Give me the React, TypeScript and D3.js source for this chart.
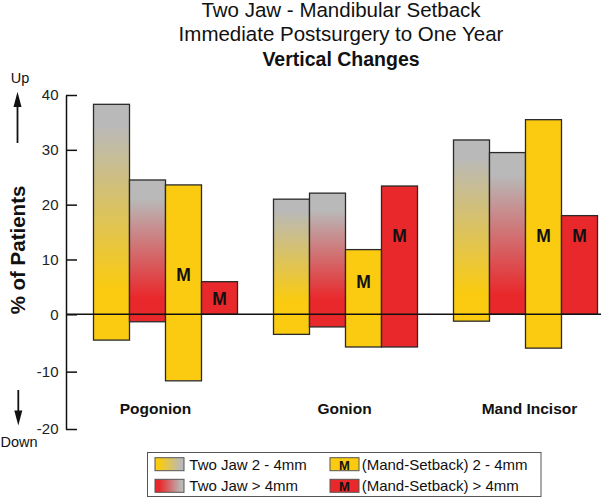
import React, { useEffect, useRef } from "react";
import * as d3 from "d3";

// ---- data ----
const categories = ["Pogonion", "Gonion", "Mand Incisor"];
const seriesKeys = ["twoJaw24", "twoJawGt4", "mand24", "mandGt4"];
const seriesLabels = [
  "Two Jaw 2 - 4mm",
  "Two Jaw > 4mm",
  "(Mand-Setback) 2 - 4mm",
  "(Mand-Setback) > 4mm",
];
// percent of patients moving up (positive) and down (negative)
const twoJaw24Up = [38.3, 21.0, 31.8];
const twoJaw24Down = [-4.5, -3.5, -1.2];
const twoJawGt4Up = [24.5, 22.1, 29.5];
const twoJawGt4Down = [-1.3, -2.2, 0];
const mand24Up = [23.6, 11.8, 35.5];
const mand24Down = [-11.6, -5.7, -5.9];
const mandGt4Up = [5.95, 23.4, 18.0];
const mandGt4Down = [0, -5.7, 0];
// where the "M" marker sits (value units) for the Mand-Setback bars
const mand24MarkY = [7.2, 5.95, 14.3];
const mandGt4MarkY = [2.9, 14.3, 14.3];
const yTicks = [-20, -10, 0, 10, 20, 30, 40];
const titleLines = [
  "Two Jaw - Mandibular Setback",
  "Immediate Postsurgery to One Year",
];
const titleBold = "Vertical Changes";

const upValues = [twoJaw24Up, twoJawGt4Up, mand24Up, mandGt4Up];
const downValues = [twoJaw24Down, twoJawGt4Down, mand24Down, mandGt4Down];
const markValues = [null, null, mand24MarkY, mandGt4MarkY];

const YELLOW = "#FACB10";
const RED = "#E9282B";
const GRAY = "#B9B9B9";
const FONT = "'Liberation Sans', Arial, Helvetica, sans-serif";

export default function App() {
  const axisRef = useRef<SVGGElement>(null);
  const W = 601;
  const H = 498;

  const y = d3.scaleLinear().domain([-20, 0, 40]).range([429, 314.3, 95]);
  const x0 = d3
    .scaleBand<string>()
    .domain(categories)
    .range([75.5, 615.5])
    .paddingInner(0.2)
    .paddingOuter(0.1);
  const x1 = d3
    .scaleBand<string>()
    .domain(seriesKeys)
    .range([0, x0.bandwidth()])
    .padding(0);

  useEffect(() => {
    if (!axisRef.current) return;
    const g = d3.select(axisRef.current);
    g.selectAll("*").remove();
    const axis = d3
      .axisLeft(y)
      .tickValues(yTicks)
      .tickSizeInner(-11)
      .tickSizeOuter(0)
      .tickPadding(7.5)
      .tickFormat((d) => String(d));
    g.call(axis as any);
    g.select(".domain").attr("stroke", "#111").attr("stroke-width", 1.5);
    g.selectAll(".tick line").attr("stroke", "#111").attr("stroke-width", 1.5);
    g.selectAll(".tick text")
      .attr("font-family", FONT)
      .attr("font-size", 15)
      .attr("fill", "#222");
  }, []);

  const catLabelDx = [-10, -1, 4];
  const seriesFill = [
    "url(#gradYellow)",
    "url(#gradRed)",
    YELLOW,
    RED,
  ];
  const seriesSolid = [YELLOW, RED, YELLOW, RED];

  return (
    <svg
      width={W}
      height={H}
      style={{ position: "absolute", left: 0, top: 0, display: "block", background: "#fff" }}
      fontFamily={FONT}
    >
      <defs>
        <linearGradient id="gradYellow" x1="0" y1="0" x2="0" y2="1">
          <stop offset="0.1" stopColor={GRAY} />
          <stop offset="0.88" stopColor={YELLOW} />
        </linearGradient>
        <linearGradient id="gradRed" x1="0" y1="0" x2="0" y2="1">
          <stop offset="0.14" stopColor={GRAY} />
          <stop offset="0.88" stopColor={RED} />
        </linearGradient>
        <linearGradient id="legYellow" x1="0" y1="0" x2="1" y2="0">
          <stop offset="0.15" stopColor={YELLOW} />
          <stop offset="0.9" stopColor={GRAY} />
        </linearGradient>
        <linearGradient id="legRed" x1="0" y1="0" x2="1" y2="0">
          <stop offset="0.15" stopColor={RED} />
          <stop offset="0.9" stopColor={GRAY} />
        </linearGradient>
      </defs>

      {/* title */}
      <text x={341} y={17.2} textAnchor="middle" fontSize={20.5} fill="#111">
        {titleLines[0]}
      </text>
      <text x={341} y={41.4} textAnchor="middle" fontSize={20.5} fill="#111">
        {titleLines[1]}
      </text>
      <text x={341} y={65.5} textAnchor="middle" fontSize={19.5} fontWeight="bold" fill="#111">
        {titleBold}
      </text>

      {/* bars */}
      {categories.map((cat, ci) => (
        <g key={cat} transform={`translate(${x0(cat)},0)`}>
          {seriesKeys.map((sk, si) => {
            const bx = x1(sk)!;
            const bw = x1.bandwidth();
            const up = upValues[si][ci];
            const down = downValues[si][ci];
            return (
              <g key={sk}>
                {up > 0 && (
                  <rect x={bx} y={y(up)} width={bw} height={y(0) - y(up)} fill={seriesFill[si]} />
                )}
                {down < 0 && (
                  <rect x={bx} y={y(0)} width={bw} height={y(down) - y(0)} fill={seriesSolid[si]} />
                )}
                <rect
                  x={bx}
                  y={y(up)}
                  width={bw}
                  height={y(down) - y(up)}
                  fill="none"
                  stroke="#2a2a2a"
                  strokeWidth={1.3}
                />
              </g>
            );
          })}
        </g>
      ))}

      {/* zero line */}
      <line x1={66} x2={601} y1={y(0)} y2={y(0)} stroke="#111" strokeWidth={1.6} />

      {/* M markers */}
      {categories.map((cat, ci) =>
        seriesKeys.map((sk, si) => {
          const mv = markValues[si];
          if (!mv) return null;
          return (
            <text
              key={cat + sk}
              x={x0(cat)! + x1(sk)! + x1.bandwidth() / 2}
              y={y(mv[ci]) + 6.2}
              textAnchor="middle"
              fontSize={17.5}
              fontWeight="bold"
              fill="#111"
            >
              M
            </text>
          );
        })
      )}

      {/* y axis */}
      <g ref={axisRef} transform="translate(66,0)" />

      {/* y axis title */}
      <text
        transform={`translate(24.5,250) rotate(-90)`}
        textAnchor="middle"
        fontSize={20.5}
        fontWeight="bold"
        fill="#111"
      >
        % of Patients
      </text>

      {/* Up / Down indicators */}
      <text x={20} y={82.7} textAnchor="middle" fontSize={14.5} fill="#111">
        Up
      </text>
      <line x1={17.5} x2={17.5} y1={143} y2={104} stroke="#111" strokeWidth={1.8} />
      <polygon points="17.5,91.7 13.5,107 21.5,107" fill="#111" />
      <line x1={18.3} x2={18.3} y1={390} y2={413} stroke="#111" strokeWidth={1.8} />
      <polygon points="18.3,425.5 14.3,410.5 22.3,410.5" fill="#111" />
      <text x={19} y={447} textAnchor="middle" fontSize={14.5} fill="#111">
        Down
      </text>

      {/* category labels */}
      {categories.map((cat, ci) => (
        <text
          key={cat}
          x={x0(cat)! + x0.bandwidth() / 2 + catLabelDx[ci]}
          y={414}
          textAnchor="middle"
          fontSize={15.5}
          fontWeight="bold"
          fill="#111"
        >
          {cat}
        </text>
      ))}

      {/* legend */}
      <g>
        <rect x={147.5} y={452.5} width={393.5} height={44} fill="#fff" stroke="#555" strokeWidth={1} />
        {/* column 1 */}
        <rect x={155} y={457.7} width={29} height={13} fill="url(#legYellow)" stroke="#555" strokeWidth={1} />
        <text x={189.3} y={469.5} fontSize={15} fill="#111">{seriesLabels[0]}</text>
        <rect x={155} y={479.3} width={29} height={13} fill="url(#legRed)" stroke="#555" strokeWidth={1} />
        <text x={189.3} y={491.2} fontSize={15} fill="#111">{seriesLabels[1]}</text>
        {/* column 2 */}
        <rect x={330} y={457.7} width={29} height={13} fill={YELLOW} stroke="#555" strokeWidth={1} />
        <text x={344.5} y={469.8} textAnchor="middle" fontSize={13} fontWeight="bold" fill="#111">M</text>
        <text x={361.7} y={469.5} fontSize={15} fill="#111">{seriesLabels[2]}</text>
        <rect x={330} y={479.3} width={29} height={13} fill={RED} stroke="#555" strokeWidth={1} />
        <text x={344.5} y={491.4} textAnchor="middle" fontSize={13} fontWeight="bold" fill="#111">M</text>
        <text x={361.7} y={491.2} fontSize={15} fill="#111">{seriesLabels[3]}</text>
      </g>
    </svg>
  );
}
